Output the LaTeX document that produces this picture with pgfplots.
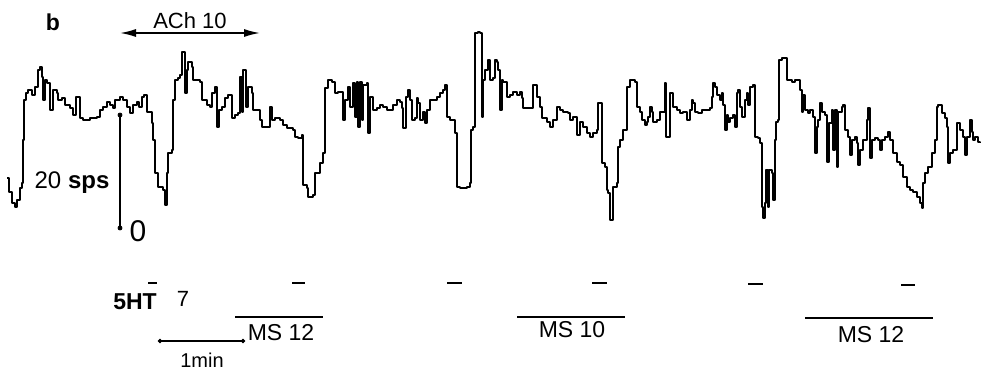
\documentclass[border=0pt]{standalone}
\usepackage{pgfplots}
\pgfplotsset{compat=1.18}
\usepackage{fontspec}
\setmainfont{Liberation Sans}
\usetikzlibrary{arrows.meta}
\begin{document}
\begin{tikzpicture}
\begin{axis}[
  scale only axis, width=491pt, height=185.5pt,
  xmin=0, xmax=982, ymin=0, ymax=371, y dir=reverse,
  axis lines=none, clip=false]
\path (axis cs:0,0) rectangle (axis cs:982,371);
% firing-rate trace (x: pixel time, y: pixel height, top = 0)
\addplot[const plot, black, line width=1.2pt, line join=round] coordinates {
(7,178)(9,192)(12,203)(15,207)(17,200)(20,188)(22,183)(23,140)(24,100)(26,93)(28,90)(32,95)(35,87)(38,70)(40,67)(42,77)(43,100)(45,80)(47,83)(50,110)(53,90)(57,93)(58,100)(62,98)(65,105)(70,108)(73,115)(76,97)(78,97)(80,118)(83,120)(90,118)(97,117)(100,110)(103,107)(107,102)(110,105)(113,108)(115,100)(120,97)(123,100)(127,107)(130,113)(133,105)(137,102)(139,107)(142,97)(144,95)(147,112)(152,123)(153,140)(155,173)(158,187)(163,190)(165,205)(167,190)(167,173)(168,153)(172,150)(173,100)(175,98)(175,80)(178,78)(180,75)(182,52)(184,52)(185,93)(187,70)(188,62)(192,67)(193,80)(200,82)(202,100)(207,105)(210,107)(212,93)(215,87)(217,127)(219,110)(222,107)(225,98)(228,95)(232,118)(235,115)(238,113)(240,77)(242,112)(243,70)(246,107)(248,87)(252,93)(253,110)(257,110)(260,120)(262,127)(267,127)(270,107)(272,120)(275,118)(280,120)(283,125)(287,128)(293,130)(295,137)(298,138)(302,135)(303,137)(303,185)(307,188)(308,197)(313,195)(315,173)(320,163)(323,153)(325,88)(328,80)(332,82)(335,93)(338,92)(342,92)(343,120)(345,100)(348,87)(350,107)(353,83)(355,117)(357,82)(358,127)(360,82)(362,120)(363,85)(367,83)(368,133)(370,97)(373,110)(377,108)(380,105)(383,107)(387,110)(390,110)(393,105)(397,100)(400,102)(402,108)(403,128)(406,97)(408,90)(410,100)(412,120)(415,118)(417,98)(418,103)(420,120)(423,112)(425,123)(427,110)(430,100)(433,100)(437,97)(440,93)(443,90)(445,85)(447,92)(447,117)(450,120)(453,120)(455,133)(457,145)(457,187)(460,188)(467,187)(470,183)(471,130)(473,127)(475,123)(475,33)(478,32)(480,33)(482,117)(483,80)(485,70)(488,60)(490,80)(493,78)(495,60)(497,62)(498,70)(500,110)(502,80)(503,82)(507,97)(510,95)(513,92)(517,95)(520,92)(522,98)(523,108)(527,108)(530,108)(533,85)(537,97)(540,107)(542,118)(547,122)(550,127)(553,120)(557,107)(560,110)(563,112)(568,113)(570,120)(573,117)(577,135)(580,122)(583,127)(587,133)(590,137)(593,133)(597,130)(598,103)(602,103)(602,163)(605,167)(607,190)(608,193)(610,220)(613,220)(613,187)(617,183)(618,147)(620,140)(623,130)(627,127)(627,87)(630,80)(635,82)(637,107)(640,112)(642,120)(645,125)(647,122)(648,117)(650,107)(652,112)(653,122)(657,120)(660,112)(663,112)(665,83)(666,137)(668,137)(670,93)(673,107)(677,110)(680,113)(683,112)(687,120)(690,110)(692,100)(693,103)(695,112)(698,113)(702,110)(707,110)(710,108)(712,97)(713,83)(715,87)(717,95)(720,100)(722,93)(723,105)(725,130)(727,115)(728,122)(730,118)(733,115)(735,127)(737,93)(738,90)(740,107)(742,117)(745,100)(747,93)(748,105)(750,87)(753,85)(755,137)(758,138)(760,143)(762,207)(763,218)(765,203)(766,170)(768,207)(769,170)(772,173)(773,200)(775,140)(776,122)(778,120)(779,60)(782,58)(785,58)(787,80)(792,82)(795,80)(798,80)(800,90)(802,112)(803,95)(805,110)(808,113)(810,110)(813,117)(815,153)(817,127)(818,120)(820,103)(822,112)(825,115)(827,162)(829,123)(832,110)(833,150)(835,110)(837,167)(838,112)(842,107)(843,105)(845,130)(848,137)(850,155)(852,140)(855,137)(857,143)(858,165)(860,150)(863,140)(867,120)(868,108)(870,158)(872,140)(875,138)(878,140)(880,150)(882,140)(885,137)(888,132)(890,140)(893,153)(897,162)(900,165)(903,177)(907,187)(910,190)(913,192)(917,197)(920,203)(922,208)(923,183)(925,173)(928,167)(932,153)(935,140)(937,107)(938,105)(942,113)(945,118)(947,127)(948,163)(950,153)(953,150)(957,123)(960,130)(963,137)(965,155)(967,137)(970,120)(972,132)(973,140)(975,137)(978,142)(980,143)
};
% calibration bar 0-20 sps
\addplot[black, line width=0.8pt] coordinates {(120,115)(120,228)};
\addplot[black, only marks, mark=*, mark size=1pt] coordinates {(120,115)(120,228)};
% ACh arrow
\addplot[black, line width=0.8pt, {Latex[length=8pt,width=4pt]}-{Latex[length=8pt,width=4pt]}] coordinates {(120,33)(260,33)};
% 5HT dashes
\addplot[black, line width=1pt] coordinates {(148,283)(157,283)};
\addplot[black, line width=1pt] coordinates {(292,283)(305,283)};
\addplot[black, line width=1pt] coordinates {(447,283)(462,283)};
\addplot[black, line width=1pt] coordinates {(592,283)(607,283)};
\addplot[black, line width=1pt] coordinates {(748,284)(763,284)};
\addplot[black, line width=1pt] coordinates {(901,285)(915,285)};
% MS bars
\addplot[black, line width=0.8pt] coordinates {(235,317)(323,317)};
\addplot[black, line width=0.8pt] coordinates {(517,317)(625,317)};
\addplot[black, line width=0.8pt] coordinates {(805,318)(933,318)};
% 1 min bar
\addplot[black, line width=0.7pt] coordinates {(160,341)(243,341)};
\addplot[black, only marks, mark=*, mark size=0.9pt] coordinates {(160,341)(243,341)};
% labels
\node[font=\fontsize{11.5}{12}\selectfont\bfseries] at (axis cs:53,22) {b};
\node[font=\fontsize{11}{12}\selectfont] at (axis cs:190,21) {ACh 10};
\node[font=\fontsize{12}{14}\selectfont] at (axis cs:72,183) {20 \textbf{sps}};
\node[font=\fontsize{15}{17}\selectfont] at (axis cs:138,231) {0};
\node[font=\fontsize{11.5}{13}\selectfont\bfseries] at (axis cs:135,302) {5HT};
\node[font=\fontsize{11}{13}\selectfont] at (axis cs:183,299) {7};
\node[font=\fontsize{11.5}{13}\selectfont] at (axis cs:281,333) {MS 12};
\node[font=\fontsize{11.5}{13}\selectfont] at (axis cs:572,330) {MS 10};
\node[font=\fontsize{11.5}{13}\selectfont] at (axis cs:871,335) {MS 12};
\node[font=\fontsize{10}{12}\selectfont] at (axis cs:202,360) {1min};
\end{axis}
\end{tikzpicture}
\end{document}
